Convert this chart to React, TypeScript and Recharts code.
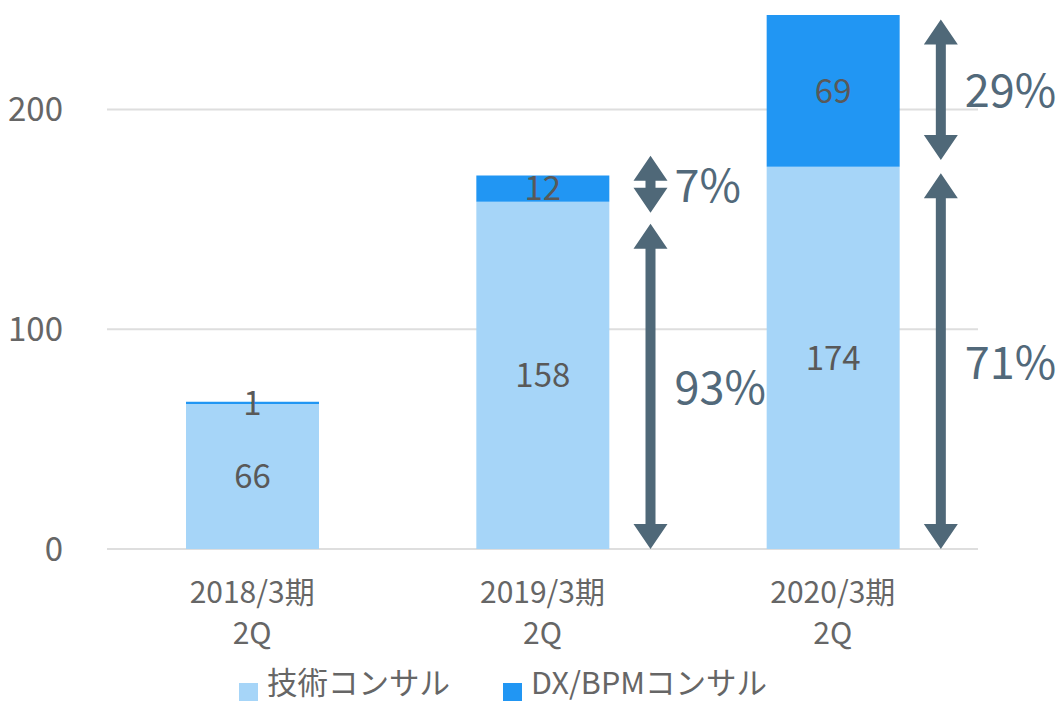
import React from 'react';
import { BarChart, Bar, XAxis, YAxis, CartesianGrid, LabelList, Legend, ReferenceLine } from 'recharts';

const categories = ['2018/3期', '2019/3期', '2020/3期'];
const quarterLabels = ['2Q', '2Q', '2Q'];
const techConsulting = [66, 158, 174];
const dxBpmConsulting = [1, 12, 69];
const yTicks = [0, 100, 200];

const arrowCategories = ['2019/3期', '2019/3期', '2020/3期', '2020/3期'];
const arrowFrom = [0, 153, 0, 177];
const arrowTo = [148, 179, 171, 241];
const arrowLabels = ['93%', '7%', '71%', '29%'];

const seriesNames = ['技術コンサル', 'DX/BPMコンサル'];
const seriesColors = ['#a6d5f8', '#2196f3'];

const data = categories.map((c, i) => ({
  cat: c,
  q: quarterLabels[i],
  tech: techConsulting[i],
  dx: dxBpmConsulting[i],
}));

const FONT = '"Noto Sans CJK JP", "Noto Sans", sans-serif';
const ARROW = '#4f6878';

const makeArrow = (label: string) => (props: any) => {
  const { x1, y1, y2 } = props;
  const cx = x1 + 108;
  const top = Math.min(y1, y2);
  const bot = Math.max(y1, y2);
  const hw = 17;
  const hl = 25;
  const sw = 5;
  const d = `M${cx},${top} L${cx + hw},${top + hl} L${cx + sw},${top + hl} L${cx + sw},${bot - hl} L${cx + hw},${bot - hl} L${cx},${bot} L${cx - hw},${bot - hl} L${cx - sw},${bot - hl} L${cx - sw},${top + hl} L${cx - hw},${top + hl} Z`;
  return (
    <g>
      <path d={d} fill={ARROW} />
      <text x={cx + 24} y={(top + bot) / 2 - 2} dominantBaseline="central" fontSize={45} fill="#52697a">
        {label}
      </text>
    </g>
  );
};

const XTick = (props: any) => {
  const { x, y, payload, index } = props;
  const q = quarterLabels[index] ?? '';
  return (
    <g>
      <text x={x} y={y + 41} textAnchor="middle" dominantBaseline="central" fontSize={30} fill="#666666">
        {payload.value}
      </text>
      <text x={x} y={y + 82} textAnchor="middle" dominantBaseline="central" fontSize={30} fill="#666666">
        {q}
      </text>
    </g>
  );
};

const LegendContent = () => (
  <div style={{ position: 'relative', width: 1056, height: 44, fontFamily: FONT }}>
    {[0, 1].map((i) => {
      const left = i === 0 ? 239 : 503;
      return (
        <React.Fragment key={i}>
          <div
            style={{
              position: 'absolute',
              left,
              top: 24,
              width: 19,
              height: 18,
              background: seriesColors[i],
            }}
          />
          <div
            style={{
              position: 'absolute',
              left: left + 28,
              top: 7,
              fontSize: 30.5,
              lineHeight: '30px',
              color: '#666666',
              whiteSpace: 'nowrap',
            }}
          >
            {seriesNames[i]}
          </div>
        </React.Fragment>
      );
    })}
  </div>
);

export default function App() {
  return (
    <div style={{ position: 'absolute', left: 0, top: 0, width: 1056, height: 703, background: '#fff', fontFamily: FONT }}>
      <BarChart width={1056} height={703} data={data} margin={{ top: 15, right: 78, left: 0, bottom: 0 }}>
        <CartesianGrid horizontal vertical={false} stroke="#dedede" strokeWidth={2} syncWithTicks />
        <XAxis
          dataKey="cat"
          axisLine={false}
          tickLine={false}
          tickSize={0}
          tickMargin={0}
          height={110}
          tick={<XTick />}
          interval={0}
        />
        <YAxis
          domain={[0, 243]}
          ticks={yTicks}
          axisLine={false}
          tickLine={false}
          tickSize={0}
          tickMargin={44}
          width={107}
          tick={{ fontSize: 33, fill: '#666666' }}
        />
        <Bar dataKey="tech" name={seriesNames[0]} stackId="a" fill={seriesColors[0]} barSize={133} isAnimationActive={false}>
          <LabelList dataKey="tech" position="center" fill="#595959" fontSize={33} />
        </Bar>
        <Bar dataKey="dx" name={seriesNames[1]} stackId="a" fill={seriesColors[1]} barSize={133} isAnimationActive={false}>
          <LabelList dataKey="dx" position="center" fill="#595959" fontSize={33} />
        </Bar>
        {arrowCategories.map((c, i) => (
          <ReferenceLine
            key={i}
            segment={[
              { x: c, y: arrowFrom[i] },
              { x: c, y: arrowTo[i] },
            ]}
            ifOverflow="visible"
            shape={makeArrow(arrowLabels[i])}
          />
        ))}
        <Legend
          verticalAlign="bottom"
          height={44}
          content={<LegendContent />}
          wrapperStyle={{ left: 0, top: 659, width: 1056, height: 44 }}
        />
      </BarChart>
    </div>
  );
}
